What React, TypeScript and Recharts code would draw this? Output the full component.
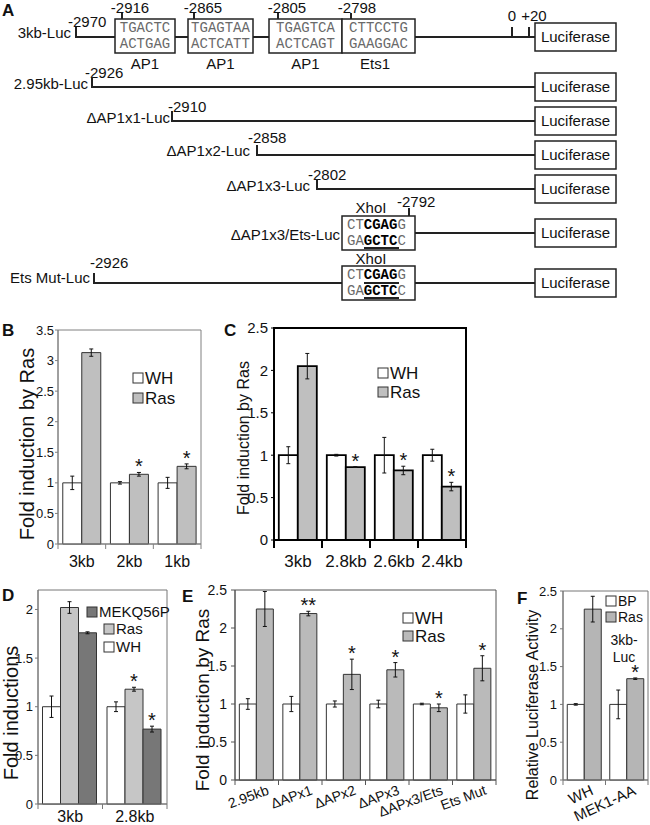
import React from 'react';
import { BarChart, Bar, XAxis, YAxis, ErrorBar, LabelList, ReferenceArea } from 'recharts';

const FONT = '"Liberation Sans", Arial, sans-serif';
const MONO = '"Liberation Mono", "Courier New", monospace';

// ---------- Panel B ----------
const bCategories = ['3kb', '2kb', '1kb'];
const bWH = [1, 1, 1];
const bWHErr = [0.11, 0.02, 0.09];
const bRas = [3.13, 1.14, 1.27];
const bRasErr = [0.06, 0.03, 0.04];
const bRasSig = ['', '*', '*'];
const bTicks = [0, 0.5, 1, 1.5, 2, 2.5, 3, 3.5];

// ---------- Panel C ----------
const cCategories = ['3kb', '2.8kb', '2.6kb', '2.4kb'];
const cWH = [1, 1, 1, 1];
const cWHErr = [0.1, 0.01, 0.21, 0.07];
const cRas = [2.05, 0.86, 0.82, 0.63];
const cRasErr = [0.15, 0.004, 0.05, 0.05];
const cRasSig = ['', '*', '*', '*'];
const cTicks = [0, 0.5, 1, 1.5, 2, 2.5];

// ---------- Panel D ----------
const dCategories = ['3kb', '2.8kb'];
const dWH = [1, 1];
const dWHErr = [0.11, 0.05];
const dRas = [2.02, 1.18];
const dRasErr = [0.06, 0.02];
const dRasSig = ['', '*'];
const dMek = [1.76, 0.77];
const dMekErr = [0.01, 0.03];
const dMekSig = ['', '*'];
const dTicks = [0, 0.5, 1, 1.5, 2];

// ---------- Panel E ----------
const eCategories = ['2.95kb', 'ΔAPx1', 'ΔAPx2', 'ΔAPx3', 'ΔAPx3/Ets', 'Ets Mut'];
const eWH = [1, 1, 1, 1, 1, 1];
const eWHErr = [0.07, 0.1, 0.04, 0.05, 0.01, 0.12];
const eRas = [2.25, 2.19, 1.39, 1.45, 0.95, 1.47];
const eRasErr = [0.23, 0.03, 0.2, 0.095, 0.05, 0.165];
const eRasSig = ['', '**', '*', '*', '*', '*'];
const eTicks = [0, 0.5, 1, 1.5, 2, 2.5];

// ---------- Panel F ----------
const fCategories = ['WH', 'MEK1-AA'];
const fBP = [1, 1];
const fBPErr = [0.01, 0.19];
const fRas = [2.26, 1.34];
const fRasErr = [0.17, 0.01];
const fRasSig = ['', '*'];
const fTicks = [0, 0.5, 1, 1.5, 2, 2.5];

// ---------- Panel A (schematic) ----------
const aConstructs = ['3kb-Luc', '2.95kb-Luc', 'ΔAP1x1-Luc', 'ΔAP1x2-Luc', 'ΔAP1x3-Luc', 'ΔAP1x3/Ets-Luc', 'Ets Mut-Luc'];
const aStarts = ['-2970', '-2926', '-2910', '-2858', '-2802', '-2792', '-2926'];
const aSites = [
  { top: 'TGACTC', bottom: 'ACTGAG', name: 'AP1', pos: '-2916' },
  { top: 'TGAGTAA', bottom: 'ACTCATT', name: 'AP1', pos: '-2865' },
  { top: 'TGAGTCA', bottom: 'ACTCAGT', name: 'AP1', pos: '-2805' },
  { top: 'CTTCCTG', bottom: 'GAAGGAC', name: 'Ets1', pos: '-2798' },
];

type Series = { key: string; name: string; values: number[]; errors: number[]; sig: string[]; fill: string };
type Plot = { l: number; t: number; r: number; b: number };

interface PanelProps {
  categories: string[];
  series: Series[];
  plot: Plot;
  max: number;
  ticks: number[];
  gap: string;
  barStroke: string;
  barStrokeWidth: number;
  frame: string;
  frameWidth: number;
  yFont: number;
  yTickSize: number;
  yTickMargin: number;
  xFont: number;
  xDy: number;
  xDx: number;
  xAngle: number;
  xAnchor: 'middle' | 'end';
  xTickLen: number;
  sigFont: number;
}

function Panel(p: PanelProps) {
  const { categories, series, plot } = p;
  const n = categories.length;
  const band = (plot.r - plot.l) / n;
  const data = categories.map((c, i) => {
    const row: any = { cat: c };
    series.forEach((s) => {
      row[s.key] = s.values[i];
      row[s.key + 'Err'] = s.errors[i];
    });
    return row;
  });

  const renderXTick = (tp: any) => {
    const { x, y, payload } = tp;
    const idx = categories.indexOf(payload.value);
    const tx = x + p.xDx;
    const ty = y + p.xDy;
    return (
      <g>
        {idx === 0 && (
          <line x1={x - band / 2} x2={x - band / 2} y1={y} y2={y + p.xTickLen} stroke={p.frame} strokeWidth={p.frameWidth} />
        )}
        <line x1={x + band / 2} x2={x + band / 2} y1={y} y2={y + p.xTickLen} stroke={p.frame} strokeWidth={p.frameWidth} />
        <text
          x={tx}
          y={ty}
          textAnchor={p.xAnchor}
          fontSize={p.xFont}
          fontFamily={FONT}
          fill="#111"
          transform={p.xAngle ? `rotate(${p.xAngle} ${tx} ${ty})` : undefined}
        >
          {payload.value}
        </text>
      </g>
    );
  };

  return (
    <div style={{ position: 'absolute', left: 0, top: 0 }}>
      <BarChart
        width={650}
        height={825}
        data={data}
        margin={{ top: plot.t, left: plot.l - 1, right: 650 - plot.r, bottom: 825 - plot.b - 1 }}
        barCategoryGap={p.gap}
        barGap={0}
      >
        <XAxis
          dataKey="cat"
          height={1}
          interval={0}
          axisLine={{ stroke: p.frame, strokeWidth: p.frameWidth }}
          tickLine={false}
          tickSize={0}
          tickMargin={0}
          tick={renderXTick}
        />
        <YAxis
          width={1}
          type="number"
          domain={[0, p.max]}
          ticks={p.ticks}
          interval={0}
          axisLine={{ stroke: p.frame, strokeWidth: p.frameWidth }}
          tickLine={{ stroke: p.frame }}
          tickSize={p.yTickSize}
          tickMargin={p.yTickMargin}
          tick={{ fontSize: p.yFont, fill: '#111', fontFamily: FONT }}
        />
        <ReferenceArea
          x1={categories[0]}
          x2={categories[n - 1]}
          y1={0}
          y2={p.max}
          fill="none"
          fillOpacity={0}
          stroke={p.frame}
          strokeWidth={p.frameWidth}
          ifOverflow="visible"
        />
        {series.map((s) => (
          <Bar
            key={s.key}
            dataKey={s.key}
            name={s.name}
            fill={s.fill}
            stroke={p.barStroke}
            strokeWidth={p.barStrokeWidth}
            isAnimationActive={false}
          >
            <ErrorBar dataKey={s.key + 'Err'} width={2} stroke="#111" strokeWidth={1} />
            <LabelList
              dataKey={s.key}
              content={(lp: any) => {
                const idx = lp.index;
                if (idx === undefined || idx === null) return null;
                const mark = s.sig[idx];
                if (!mark) return null;
                const v = s.values[idx];
                const pxPerUnit = Math.abs(lp.height) / v;
                const errTop = lp.y - s.errors[idx] * pxPerUnit;
                return (
                  <text
                    x={lp.x + lp.width / 2}
                    y={errTop + 1}
                    textAnchor="middle"
                    fontSize={p.sigFont}
                    fontFamily={FONT}
                    fill="#111"
                  >
                    {mark}
                  </text>
                );
              }}
            />
          </Bar>
        ))}
      </BarChart>
    </div>
  );
}

function LegendItems(props: { items: { name: string; fill: string; x: number; y: number }[]; font: number }) {
  return (
    <g>
      {props.items.map((it) => (
        <g key={it.name}>
          <rect x={it.x} y={it.y - 5} width={10} height={10} fill={it.fill} stroke="#333" strokeWidth={1} />
          <text x={it.x + 12} y={it.y + props.font * 0.36} fontSize={props.font} fontFamily={FONT} fill="#111">
            {it.name}
          </text>
        </g>
      ))}
    </g>
  );
}

function YTitle(props: { text: string; cx: number; cy: number; font: number }) {
  return (
    <text
      x={props.cx}
      y={props.cy}
      textAnchor="middle"
      dominantBaseline="central"
      fontSize={props.font}
      fontFamily={FONT}
      fill="#111"
      transform={`rotate(-90 ${props.cx} ${props.cy})`}
    >
      {props.text}
    </text>
  );
}

function LucBox(props: { y: number }) {
  return (
    <g>
      <rect x={535} y={props.y - 14} width={81} height={28} fill="#fff" stroke="#222" strokeWidth={1.5} />
      <text x={575.5} y={props.y + 5} textAnchor="middle" fontSize={15} fontFamily={FONT} fill="#111">
        Luciferase
      </text>
    </g>
  );
}

function XhoBox(props: { top: number; over: boolean }) {
  const t = props.top;
  const grey = '#6a6a6a';
  return (
    <g>
      <rect x={342} y={t} width={73} height={34} fill="#fff" stroke="#222" strokeWidth={1.5} />
      <text x={347} y={t + 13} fontSize={14} fontFamily={MONO} fill={grey}>
        CT<tspan fontWeight="bold" fill="#000">CGAG</tspan>G
      </text>
      <text x={347} y={t + 29} fontSize={14} fontFamily={MONO} fill={grey}>
        GA<tspan fontWeight="bold" fill="#000">GCTC</tspan>C
      </text>
      {props.over && <line x1={364} x2={399} y1={t + 17} y2={t + 17} stroke="#222" strokeWidth={1.8} />}
      <line x1={364} x2={399} y1={t + 32} y2={t + 32} stroke="#222" strokeWidth={1.8} />
    </g>
  );
}

function Schematic() {
  const lineC = '#222';
  const lw = 2;
  const txt = (s: string, x: number, y: number, anchor: 'start' | 'middle' | 'end' = 'start', size = 15) => (
    <text x={x} y={y} textAnchor={anchor} fontSize={size} fontFamily={FONT} fill="#111">
      {s}
    </text>
  );
  const siteBoxes = [
    { x: 115, w: 60, tick: 122, label: 130 },
    { x: 188, w: 65, tick: 194, label: 203 },
    { x: 269, w: 73, tick: 278, label: 287 },
    { x: 342, w: 73, tick: 351, label: 357 },
  ];
  const simpleRows = [
    { i: 1, y: 87, nameEnd: 88, nameBase: 89, tick: 92, labelX: 85, labelBase: 78 },
    { i: 2, y: 121, nameEnd: 170, nameBase: 123, tick: 172, labelX: 168, labelBase: 112 },
    { i: 3, y: 155, nameEnd: 250, nameBase: 156, tick: 257, labelX: 248, labelBase: 143 },
    { i: 4, y: 189, nameEnd: 310, nameBase: 191, tick: 317, labelX: 308, labelBase: 180 },
  ];
  return (
    <g>
      <text x={2} y={16} fontSize={17} fontWeight="bold" fontFamily={FONT} fill="#111">A</text>
      {/* Row 1 */}
      {txt(aConstructs[0], 71, 38, 'end')}
      {txt(aStarts[0], 68, 27)}
      <line x1={76} x2={76} y1={27} y2={38} stroke={lineC} strokeWidth={lw} />
      <line x1={75} x2={115} y1={37} y2={37} stroke={lineC} strokeWidth={lw} />
      <line x1={175} x2={188} y1={37} y2={37} stroke={lineC} strokeWidth={lw} />
      <line x1={253} x2={269} y1={37} y2={37} stroke={lineC} strokeWidth={lw} />
      <line x1={415} x2={535} y1={37} y2={37} stroke={lineC} strokeWidth={lw} />
      <line x1={512} x2={512} y1={27} y2={37} stroke={lineC} strokeWidth={lw} />
      <line x1={529} x2={529} y1={27} y2={37} stroke={lineC} strokeWidth={lw} />
      {txt('0', 512, 21, 'middle')}
      {txt('+20', 534, 21, 'middle')}
      {siteBoxes.map((b, k) => (
        <g key={k}>
          <rect x={b.x} y={19} width={b.w} height={34} fill="#fff" stroke="#222" strokeWidth={1.5} />
          <line x1={b.tick} x2={b.tick} y1={13} y2={19} stroke={lineC} strokeWidth={lw} />
          {txt(aSites[k].pos, b.label, 13, 'middle')}
          <text x={b.x + b.w / 2} y={32} textAnchor="middle" fontSize={14} fontFamily={MONO} fill="#6a6a6a">
            {aSites[k].top}
          </text>
          <text x={b.x + b.w / 2} y={48} textAnchor="middle" fontSize={14} fontFamily={MONO} fill="#6a6a6a">
            {aSites[k].bottom}
          </text>
          {txt(aSites[k].name, k === 3 ? 375 : b.x + b.w / 2, 69, 'middle')}
        </g>
      ))}
      <LucBox y={37} />
      {/* Rows 2-5 */}
      {simpleRows.map((r) => (
        <g key={r.i}>
          {txt(aConstructs[r.i], r.nameEnd, r.nameBase, 'end')}
          {txt(aStarts[r.i], r.labelX, r.labelBase)}
          <line x1={r.tick} x2={r.tick} y1={r.y - 10} y2={r.y + 1} stroke={lineC} strokeWidth={lw} />
          <line x1={r.tick - 1} x2={535} y1={r.y} y2={r.y} stroke={lineC} strokeWidth={lw} />
          <LucBox y={r.y} />
        </g>
      ))}
      {/* Row 6 */}
      {txt(aConstructs[5], 340, 240, 'end')}
      {txt('XhoI', 371, 213, 'middle')}
      {txt(aStarts[5], 397, 207)}
      <line x1={409} x2={409} y1={208} y2={216} stroke={lineC} strokeWidth={lw} />
      <XhoBox top={216} over={false} />
      <line x1={415} x2={535} y1={233} y2={233} stroke={lineC} strokeWidth={lw} />
      <LucBox y={233} />
      {/* Row 7 */}
      {txt(aConstructs[6], 90, 283, 'end')}
      {txt(aStarts[6], 90, 268)}
      <line x1={94} x2={94} y1={273} y2={284} stroke={lineC} strokeWidth={lw} />
      <line x1={93} x2={342} y1={283} y2={283} stroke={lineC} strokeWidth={lw} />
      {txt('XhoI', 371, 264, 'middle')}
      <XhoBox top={266} over={true} />
      <line x1={415} x2={535} y1={283} y2={283} stroke={lineC} strokeWidth={lw} />
      <LucBox y={283} />
    </g>
  );
}

const WHITE = '#ffffff';
const RAS_GREY = '#bfbfbf';

export default function App() {
  const bSeries: Series[] = [
    { key: 'wh', name: 'WH', values: bWH, errors: bWHErr, sig: ['', '', ''], fill: WHITE },
    { key: 'ras', name: 'Ras', values: bRas, errors: bRasErr, sig: bRasSig, fill: RAS_GREY },
  ];
  const cSeries: Series[] = [
    { key: 'wh', name: 'WH', values: cWH, errors: cWHErr, sig: ['', '', '', ''], fill: WHITE },
    { key: 'ras', name: 'Ras', values: cRas, errors: cRasErr, sig: cRasSig, fill: RAS_GREY },
  ];
  const dSeries: Series[] = [
    { key: 'wh', name: 'WH', values: dWH, errors: dWHErr, sig: ['', ''], fill: WHITE },
    { key: 'ras', name: 'Ras', values: dRas, errors: dRasErr, sig: dRasSig, fill: '#c6c6c6' },
    { key: 'mek', name: 'MEKQ56P', values: dMek, errors: dMekErr, sig: dMekSig, fill: '#777777' },
  ];
  const eSeries: Series[] = [
    { key: 'wh', name: 'WH', values: eWH, errors: eWHErr, sig: ['', '', '', '', '', ''], fill: WHITE },
    { key: 'ras', name: 'Ras', values: eRas, errors: eRasErr, sig: eRasSig, fill: '#bababa' },
  ];
  const fSeries: Series[] = [
    { key: 'bp', name: 'BP', values: fBP, errors: fBPErr, sig: ['', ''], fill: WHITE },
    { key: 'ras', name: 'Ras', values: fRas, errors: fRasErr, sig: fRasSig, fill: '#b5b5b5' },
  ];

  return (
    <div style={{ position: 'absolute', left: 0, top: 0, width: 650, height: 825, background: '#fff', overflow: 'hidden' }}>
      <Panel
        categories={bCategories} series={bSeries} plot={{ l: 58, t: 330, r: 201, b: 544 }} max={3.5} ticks={bTicks}
        gap="10%" barStroke="#333" barStrokeWidth={1} frame="#808080" frameWidth={1}
        yFont={13} yTickSize={3} yTickMargin={1} xFont={16} xDy={23} xDx={0} xAngle={0} xAnchor="middle" xTickLen={5} sigFont={20}
      />
      <Panel
        categories={cCategories} series={cSeries} plot={{ l: 274, t: 328, r: 466, b: 540 }} max={2.5} ticks={cTicks}
        gap="10%" barStroke="#000" barStrokeWidth={1.8} frame="#000" frameWidth={2}
        yFont={15} yTickSize={3} yTickMargin={3} xFont={17} xDy={27} xDx={0} xAngle={0} xAnchor="middle" xTickLen={8} sigFont={20}
      />
      <Panel
        categories={dCategories} series={dSeries} plot={{ l: 38, t: 590, r: 167, b: 804 }} max={2.2} ticks={dTicks}
        gap="7%" barStroke="#333" barStrokeWidth={1} frame="#777" frameWidth={1}
        yFont={13} yTickSize={3} yTickMargin={2} xFont={16} xDy={18} xDx={0} xAngle={0} xAnchor="middle" xTickLen={5} sigFont={20}
      />
      <Panel
        categories={eCategories} series={eSeries} plot={{ l: 235, t: 590, r: 496, b: 780 }} max={2.5} ticks={eTicks}
        gap="10%" barStroke="#333" barStrokeWidth={1} frame="#555" frameWidth={1}
        yFont={14} yTickSize={4} yTickMargin={4} xFont={14} xDy={14} xDx={13} xAngle={-20} xAnchor="end" xTickLen={5} sigFont={20}
      />
      <Panel
        categories={fCategories} series={fSeries} plot={{ l: 563, t: 591, r: 648, b: 780 }} max={2.5} ticks={fTicks}
        gap="10%" barStroke="#333" barStrokeWidth={1} frame="#777" frameWidth={1}
        yFont={13} yTickSize={3} yTickMargin={3} xFont={15} xDy={14} xDx={10} xAngle={-25} xAnchor="end" xTickLen={5} sigFont={20}
      />
      <svg width={650} height={825} style={{ position: 'absolute', left: 0, top: 0 }}>
        <Schematic />
        {/* panel letters */}
        <text x={2} y={336} fontSize={17} fontWeight="bold" fontFamily={FONT} fill="#111">B</text>
        <text x={224} y={336} fontSize={17} fontWeight="bold" fontFamily={FONT} fill="#111">C</text>
        <text x={2} y={601} fontSize={17} fontWeight="bold" fontFamily={FONT} fill="#111">D</text>
        <text x={182} y={602} fontSize={17} fontWeight="bold" fontFamily={FONT} fill="#111">E</text>
        <text x={517} y={604} fontSize={17} fontWeight="bold" fontFamily={FONT} fill="#111">F</text>
        {/* axis titles */}
        <YTitle text="Fold induction by Ras" cx={27} cy={444} font={20} />
        <YTitle text="Fold induction by Ras" cx={243} cy={438} font={16} />
        <YTitle text="Fold inductions" cx={11} cy={713} font={20} />
        <YTitle text="Fold induction by Ras" cx={202} cy={700} font={19} />
        <YTitle text="Relative Luciferase Activity" cx={532} cy={705} font={16} />
        {/* legends */}
        <LegendItems
          font={17}
          items={[
            { name: bSeries[0].name, fill: bSeries[0].fill, x: 133, y: 378 },
            { name: bSeries[1].name, fill: bSeries[1].fill, x: 133, y: 398 },
          ]}
        />
        <LegendItems
          font={17}
          items={[
            { name: cSeries[0].name, fill: cSeries[0].fill, x: 378, y: 373 },
            { name: cSeries[1].name, fill: cSeries[1].fill, x: 378, y: 392 },
          ]}
        />
        <LegendItems
          font={15}
          items={[
            { name: dSeries[2].name, fill: dSeries[2].fill, x: 87, y: 612 },
            { name: dSeries[1].name, fill: dSeries[1].fill, x: 104, y: 629 },
            { name: dSeries[0].name, fill: dSeries[0].fill, x: 104, y: 647 },
          ]}
        />
        <LegendItems
          font={17}
          items={[
            { name: eSeries[0].name, fill: eSeries[0].fill, x: 403, y: 618 },
            { name: eSeries[1].name, fill: eSeries[1].fill, x: 403, y: 636 },
          ]}
        />
        <LegendItems
          font={14}
          items={[
            { name: fSeries[0].name, fill: fSeries[0].fill, x: 606, y: 601 },
            { name: fSeries[1].name, fill: fSeries[1].fill, x: 606, y: 617 },
          ]}
        />
        <text x={624} y={645} textAnchor="middle" fontSize={14} fontFamily={FONT} fill="#111">3kb-</text>
        <text x={624} y={662} textAnchor="middle" fontSize={14} fontFamily={FONT} fill="#111">Luc</text>
      </svg>
    </div>
  );
}
